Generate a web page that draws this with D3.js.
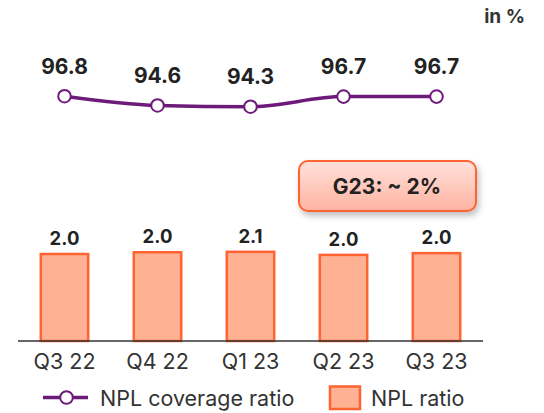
<!DOCTYPE html>
<html>
<head>
<meta charset="utf-8">
<script src="https://cdn.jsdelivr.net/npm/d3@7"></script>
<style>
  body { margin: 0; background: #fff; }
  svg { display: block; }
</style>
</head>
<body>
<script>
// chart data
const quarters = ['Q3 22', 'Q4 22', 'Q1 23', 'Q2 23', 'Q3 23'];
const coverage = [96.8, 94.6, 94.3, 96.7, 96.7];
const coverageLabels = ['96.8', '94.6', '94.3', '96.7', '96.7'];
const nplRatio = [2.0, 2.04, 2.05, 1.98, 2.02];
const nplLabels = ['2.0', '2.0', '2.1', '2.0', '2.0'];
const guidance = 'G23: ~ 2%';
const unitLabel = 'in %';
const legendItems = ['NPL coverage ratio', 'NPL ratio'];

const w = 544;
const h = 413;
const purple = '#6e1a7b';
const barFill = '#ffb194';
const barStroke = '#ff6331';
const font = 'Inter, sans-serif';

const svg = d3.select('body')
              .append('svg')
              .attr('width', w)
              .attr('height', h);

const defs = svg.append('defs');
const grad = defs.append('linearGradient')
                 .attr('id', 'boxGrad')
                 .attr('x1', 0).attr('y1', 0)
                 .attr('x2', 0).attr('y2', 1);
grad.append('stop').attr('offset', '0%').attr('stop-color', '#ffe1dc');
grad.append('stop').attr('offset', '100%').attr('stop-color', '#ffb3a0');

const shadow = defs.append('filter')
                   .attr('id', 'shadow')
                   .attr('x', '-20%').attr('y', '-30%')
                   .attr('width', '140%').attr('height', '170%');
shadow.append('feDropShadow')
      .attr('dx', 2).attr('dy', 4)
      .attr('stdDeviation', 3)
      .attr('flood-color', '#000')
      .attr('flood-opacity', 0.25);

// scales
const xBand = d3.scaleBand()
                .domain(quarters)
                .range([18, 483])
                .paddingInner(0.49)
                .paddingOuter(0.245);
const xMid = q => xBand(q) + xBand.bandwidth() / 2;

const baseY = 341;
const yBar = d3.scaleLinear()
               .domain([0, 2])
               .range([baseY, baseY - 87]);

const yLine = d3.scaleLinear()
                .domain([94.3, 96.8])
                .range([106.7, 96.2]);

// bars
svg.selectAll('rect.bar')
   .data(nplRatio)
   .enter()
   .append('rect')
   .attr('class', 'bar')
   .attr('x', (d, i) => xBand(quarters[i]))
   .attr('y', d => yBar(d))
   .attr('width', xBand.bandwidth())
   .attr('height', d => baseY - yBar(d))
   .attr('fill', barFill)
   .attr('stroke', barStroke)
   .attr('stroke-width', 2.5);

svg.selectAll('text.bar-label')
   .data(nplLabels)
   .enter()
   .append('text')
   .attr('class', 'bar-label')
   .attr('x', (d, i) => xMid(quarters[i]))
   .attr('y', (d, i) => yBar(nplRatio[i]) - 9)
   .attr('text-anchor', 'middle')
   .attr('font-family', font)
   .attr('font-weight', 'bold')
   .attr('font-size', 18.5)
   .attr('fill', '#222')
   .text(d => d);

// x axis
const xAxis = d3.axisBottom(xBand).tickSize(0).tickPadding(13);
const axisG = svg.append('g')
                 .attr('transform', 'translate(0,' + baseY + ')')
                 .call(xAxis);
axisG.select('.domain').remove();
axisG.append('line')
     .attr('x1', 18).attr('x2', 483)
     .attr('stroke', '#333')
     .attr('stroke-width', 1.5);
axisG.selectAll('text')
     .attr('font-family', font)
     .attr('font-size', 21.5)
     .attr('fill', '#333');

// coverage line
const line = d3.line()
               .x((d, i) => xMid(quarters[i]))
               .y(d => yLine(d))
               .curve(d3.curveMonotoneX);

svg.append('path')
   .datum(coverage)
   .attr('d', line)
   .attr('fill', 'none')
   .attr('stroke', purple)
   .attr('stroke-width', 3.5);

svg.selectAll('circle.pt')
   .data(coverage)
   .enter()
   .append('circle')
   .attr('class', 'pt')
   .attr('cx', (d, i) => xMid(quarters[i]))
   .attr('cy', d => yLine(d))
   .attr('r', 6.3)
   .attr('fill', '#fff')
   .attr('stroke', purple)
   .attr('stroke-width', 2);

svg.selectAll('text.line-label')
   .data(coverageLabels)
   .enter()
   .append('text')
   .attr('class', 'line-label')
   .attr('x', (d, i) => xMid(quarters[i]))
   .attr('y', (d, i) => yLine(coverage[i]) - 22.7)
   .attr('text-anchor', 'middle')
   .attr('font-family', font)
   .attr('font-weight', 'bold')
   .attr('font-size', 21)
   .attr('fill', '#222')
   .text(d => d);

// unit
svg.append('text')
   .attr('x', 525)
   .attr('y', 23)
   .attr('text-anchor', 'end')
   .attr('font-family', font)
   .attr('font-weight', 'bold')
   .attr('font-size', 19)
   .attr('fill', '#333')
   .text(unitLabel);

// guidance callout
const box = svg.append('g');
box.append('rect')
   .attr('x', 299).attr('y', 161)
   .attr('width', 177).attr('height', 50)
   .attr('rx', 9)
   .attr('fill', 'url(#boxGrad)')
   .attr('stroke', barStroke)
   .attr('stroke-width', 2)
   .attr('filter', 'url(#shadow)');
box.append('text')
   .attr('x', 387)
   .attr('y', 193.5)
   .attr('text-anchor', 'middle')
   .attr('font-family', font)
   .attr('font-weight', 'bold')
   .attr('font-size', 21)
   .attr('fill', '#222')
   .text(guidance);

// legend
const legend = svg.append('g');
legend.append('line')
      .attr('x1', 43).attr('x2', 88)
      .attr('y1', 397.5).attr('y2', 397.5)
      .attr('stroke', purple)
      .attr('stroke-width', 3.5);
legend.append('circle')
      .attr('cx', 66.5).attr('cy', 397.5)
      .attr('r', 6.3)
      .attr('fill', '#fff')
      .attr('stroke', purple)
      .attr('stroke-width', 2);
legend.append('text')
      .attr('x', 100).attr('y', 405.5)
      .attr('font-family', font)
      .attr('font-size', 21.5)
      .attr('fill', '#333')
      .text(legendItems[0]);
legend.append('rect')
      .attr('x', 330).attr('y', 386.5)
      .attr('width', 30).attr('height', 22.5)
      .attr('fill', barFill)
      .attr('stroke', barStroke)
      .attr('stroke-width', 2.5);
legend.append('text')
      .attr('x', 371).attr('y', 405.5)
      .attr('font-family', font)
      .attr('font-size', 21.5)
      .attr('fill', '#333')
      .text(legendItems[1]);
</script>
</body>
</html>
